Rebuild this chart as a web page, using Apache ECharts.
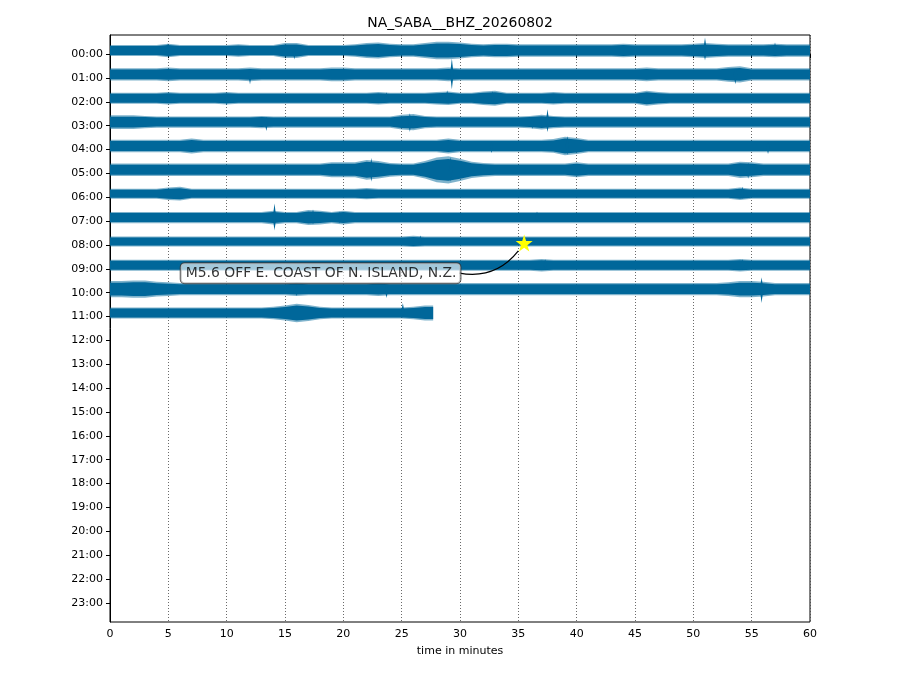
<!DOCTYPE html>
<html>
<head>
<meta charset="utf-8">
<title>NA_SABA__BHZ_20260802</title>
<script src="https://cdn.jsdelivr.net/npm/echarts@6/dist/echarts.min.js"></script>
<style>
  html, body { margin: 0; background: #fff; }
  #main { width: 920px; height: 690px; }
</style>
</head>
<body>
<div id="main"></div>
<script>
// 每行一小时的道，纵轴标签
const hourLabels = ['00:00','01:00','02:00','03:00','04:00','05:00','06:00','07:00',
  '08:00','09:00','10:00','11:00','12:00','13:00','14:00','15:00','16:00','17:00',
  '18:00','19:00','20:00','21:00','22:00','23:00'];
const hourIndex = hourLabels.map((_, i) => i);

// 包络半幅（按分钟采样，读图估计，单位 counts）
const row00 = [4.5,4.5,4.5,4.5,4.5,5.5,4.5,4.5,4.5,4.5, 4.5,5,4.5,4.5,4.5,6,6,4.5,4.5,4.5, 4.5,5,6,6.5,5.5,5,5,6,7,7, 6.5,5.5,5,5.5,5.5,5,5,5,5,5, 5,5,5,5,5.5,5,5,5,5,5, 5.5,6,5.5,5,5,5,5,5.5,5,5, 5];
const row01 = [5,5,5,5,5,5.5,5,5,5,5, 5,5,5.5,5,5,5,5,5,5,5.5, 5.5,5,5,5,5,5,5,5,5,5.5, 5,5,5,5,5,5,5,5,5,5, 5,5,5,5,5,5,5.5,5,5,5, 5,5,5,6,6.5,5,5,5,5,5, 5];
const row02 = [4.5,4.5,4.5,4.5,4.5,5,4.5,4.5,4.5,4.5, 5,4.5,4.5,4.5,4.5,4.5,4.5,4.5,4.5,4.5, 4.5,4.5,4.5,5,4.5,4.5,4.5,4.5,5,5.5, 4.5,4.5,5.5,6,4.5,4.5,4.5,4.5,5,4.5, 4.5,4.5,4.5,4.5,4.5,4.5,6,5,4.5,4.5, 4.5,4.5,4.5,4.5,4.5,4.5,4.5,4.5,4.5,4.5, 4.5];
const row03 = [5.5,5.5,5.5,5,4.5,4.5,4.5,4.5,4.5,4.5, 4.5,4.5,4.5,5,4.5,4.5,4.5,4.5,4.5,4.5, 4.5,4.5,4.5,4.5,4.5,6,6.5,5,4.5,4.5, 4.5,4.5,4.5,4.5,4.5,4.5,5,6,5,4.5, 4.5,4.5,4.5,4.5,4.5,4.5,4.5,4.5,4.5,4.5, 4.5,4.5,4.5,4.5,4.5,4.5,4.5,4.5,4.5,4.5, 4.5];
const row04 = [5,5,5,5,5,5,5,6,5,5, 5,5,5,5,5,5,5,5,5,5, 5,5,5,5,5,5,5,5,5,6, 5,5,5,5,5,5,5,5,5.5,7.5, 6.5,5,5,5,5,5,5,5,5,5, 5,5,5,5,5,5,5,5,5,5, 5];
const row05 = [5,5,5,5,5,5,5,5,5,5, 5,5,5,5,5,5,5,5,5,6, 6,6,8,7,5.5,5,5,7,10,11, 9,6.5,5.5,5,5,5,5,5,5,5, 6,5,5,5,5,5,5,5,5,5, 5,5,5,5,6.5,6,5,5,5,5, 5];
const row06 = [4,4,4,4,4,5,5.5,4,4,4, 4,4,4,4,4,4,4,4,4,4, 4,4,4.5,4,4,4,4,4,4,4, 4,4,4,4,4,4,4,4,4,4, 4,4,4,4,4,4,4,4,4,4, 4,4,4,4,5,4,4,4,4,4, 4];
const row07 = [4.5,4.5,4.5,4.5,4.5,4.5,4.5,4.5,4.5,4.5, 4.5,4.5,4.5,4.5,5.5,4.5,4.5,6,5.5,4.5, 5.5,4.5,4.5,4.5,4.5,4.5,4.5,4.5,4.5,4.5, 4.5,4.5,4.5,4.5,4.5,4.5,4.5,4.5,4.5,4.5, 4.5,4.5,4.5,4.5,4.5,4.5,4.5,4.5,4.5,4.5, 4.5,4.5,4.5,4.5,4.5,4.5,4.5,4.5,4.5,4.5, 4.5];
const row08 = [4,4,4,4,4,4,4,4,4,4, 4,4,4,4,4,4,4,4,4,4, 4,4,4,4,4,4,4.5,4,4,4, 4,4,4,4,4,4,4,4,4,4, 4,4,4,4,4,4,4,4,4,4, 4,4,4,4,4,4,4,4,4,4, 4];
const row09 = [4.5,4.5,4.5,4.5,4.5,4.5,4.5,4.5,4.5,4.5, 4.5,4.5,4.5,4.5,4.5,4.5,4.5,4.5,4.5,4.5, 4.5,4.5,4.5,4.5,4.5,4.5,4.5,4.5,4.5,4.5, 4.5,4.5,4.5,4.5,4.5,4.5,4.5,5,4.5,4.5, 4.5,4.5,4.5,4.5,4.5,4.5,4.5,4.5,4.5,4.5, 4.5,4.5,4.5,4.5,5,4.5,4.5,4.5,4.5,4.5, 4.5];
const row10 = [6.5,6.5,7,7,6,5.5,5,5,5,5, 5,5,5,5,5,5,5.5,5,5,5, 5,5,5,5.5,5,5,5,5,5,5, 5,5,5,5,5,5,5,5,5,5, 5,5,5,5,5,5,5,5,5,5, 5,5,5,5.5,6.5,6.5,6,5,5,5, 5];
const row11 = [4.5,4.5,4.5,4.5,4.5,4.5,4.5,4.5,4.5,4.5, 4.5,4.5,4.5,4.5,5,6,7.5,6.5,5,4.5, 4.5,4.5,4.5,4.5,4.5,4.5,5,6,6];
const traces = [row00,row01,row02,row03,row04,row05,row06,row07,row08,row09,row10,row11];
const traceEnd = [60,60,60,60,60,60,60,60,60,60,60,27.7];

// 尖峰：[行, 分钟, 向上, 向下]
const spikes = [
  [0,4.9,7,4],[0,15.8,5,9],[0,51.0,13,10],[0,57.0,8,5],
  [1,12.0,5,10],[1,29.3,16,15],[1,53.6,6,10],
  [2,10.0,4,7],[2,23.7,6,4],[2,28.9,8,5],[2,32.8,7,6],
  [3,13.4,5,9],[3,25.7,9,10],[3,36.2,4,7],[3,37.5,13,10],
  [4,32.7,4,7],[4,39.2,10,9],[4,56.4,4,8],
  [5,22.4,12,12],[5,29.2,13,12],[5,54.7,7,9],
  [6,54.2,7,5],
  [7,14.1,14,13],[7,17.4,8,7],[7,19.7,6,6],[7,36.6,6,4],
  [8,26.6,6,4],
  [9,37.3,6,4],[9,54.2,6,4],
  [10,16.0,4,7],[10,23.7,5,9],[10,55.85,12,14],
  [11,25.1,10,5]
];

// 地震事件
const eventName = 'M5.6 OFF E. COAST OF N. ISLAND, N.Z.';
const eventPoint = [35.5, 7.92];
const labelPoint = [18.05, 9.18];
const connector = [[29.95, 9.18], [35.0, 8.25]];

const COUNTS_PER_ROW = 24;
const ROW_SHIFT = -0.15;
const TRACE_COLOR = '#00679a';
const FONT = 'DejaVu Sans';

function rowCenter(r) { return r + ROW_SHIFT; }

var myChart = echarts.init(document.getElementById('main'));

var option = {
  animation: false,
  title: {
    text: 'NA_SABA__BHZ_20260802',
    left: 'center',
    top: 11,
    textStyle: { fontFamily: FONT, fontSize: 13.9, fontWeight: 'normal', color: '#000' }
  },
  grid: {
    left: 110, right: 110, top: 35, bottom: 68,
    show: true, borderColor: '#000', borderWidth: 1
  },
  xAxis: {
    type: 'value', min: 0, max: 60, interval: 5,
    name: 'time in minutes', nameLocation: 'middle', nameGap: 24,
    nameTextStyle: { fontFamily: FONT, fontSize: 11, color: '#000' },
    axisLine: { show: true, lineStyle: { color: '#000', width: 1 } },
    axisTick: { show: true, length: 4, lineStyle: { color: '#000' } },
    axisLabel: { fontFamily: FONT, fontSize: 11, color: '#000', margin: 7 },
    splitLine: { show: true, lineStyle: { color: '#444', width: 0.8, type: [1, 2] } }
  },
  yAxis: {
    type: 'value', inverse: true, min: -0.8, max: 23.8,
    axisLine: { show: true, lineStyle: { color: '#000', width: 1 } },
    axisTick: { show: true, length: 4, customValues: hourIndex, lineStyle: { color: '#000' } },
    axisLabel: {
      customValues: hourIndex,
      formatter: function (v) { return hourLabels[Math.round(v)]; },
      fontFamily: FONT, fontSize: 11, color: '#000', margin: 7
    },
    splitLine: { show: false }
  },
  series: [
    {
      type: 'custom',
      name: 'traces',
      data: traces.map((_, i) => [i]),
      renderItem: function (params, api) {
        const r = api.value(0);
        const amps = traces[r];
        const end = traceEnd[r];
        const c = rowCenter(r);
        function band(scale) {
          const upper = [], lower = [];
          for (let k = 0; k < amps.length; k++) {
            const x = Math.min(k, end);
            const a = amps[k] * scale / COUNTS_PER_ROW;
            upper.push(api.coord([x, c - a]));
            lower.push(api.coord([x, c + a]));
          }
          return upper.concat(lower.reverse());
        }
        const children = [
          { type: 'polygon', shape: { points: band(1.25) }, style: { fill: 'rgba(0,103,154,0.5)' } },
          { type: 'polygon', shape: { points: band(1.0) }, style: { fill: TRACE_COLOR } }
        ];
        spikes.filter(s => s[0] === r).forEach(function (s) {
          const m = s[1], hw = 0.15;
          children.push({
            type: 'polygon',
            shape: { points: [
              api.coord([m - hw, c]),
              api.coord([m, c - s[2] / COUNTS_PER_ROW]),
              api.coord([m + hw, c]),
              api.coord([m, c + s[3] / COUNTS_PER_ROW])
            ] },
            style: { fill: TRACE_COLOR }
          });
        });
        return { type: 'group', children: children };
      },
      z: 2
    },
    {
      type: 'lines',
      coordinateSystem: 'cartesian2d',
      data: [{ coords: connector }],
      lineStyle: { color: '#000', width: 1.2, curveness: -0.3, opacity: 1 },
      z: 4
    },
    {
      type: 'scatter',
      data: [labelPoint],
      symbolSize: 1,
      itemStyle: { color: 'transparent' },
      label: {
        show: true,
        position: 'inside',
        formatter: eventName,
        fontFamily: FONT, fontSize: 13.9, color: '#000',
        backgroundColor: 'rgba(255,255,255,0.8)',
        borderColor: '#333', borderWidth: 1, borderRadius: 4,
        padding: [3, 4, 3, 5]
      },
      z: 5
    },
    {
      type: 'scatter',
      data: [eventPoint],
      symbol: 'path://M50,0 L61,35 L98,35 L68,57 L79,91 L50,70 L21,91 L32,57 L2,35 L39,35 Z',
      symbolSize: 17,
      itemStyle: { color: '#ffff00', opacity: 1 },
      z: 6
    }
  ]
};

myChart.setOption(option);
</script>
</body>
</html>
